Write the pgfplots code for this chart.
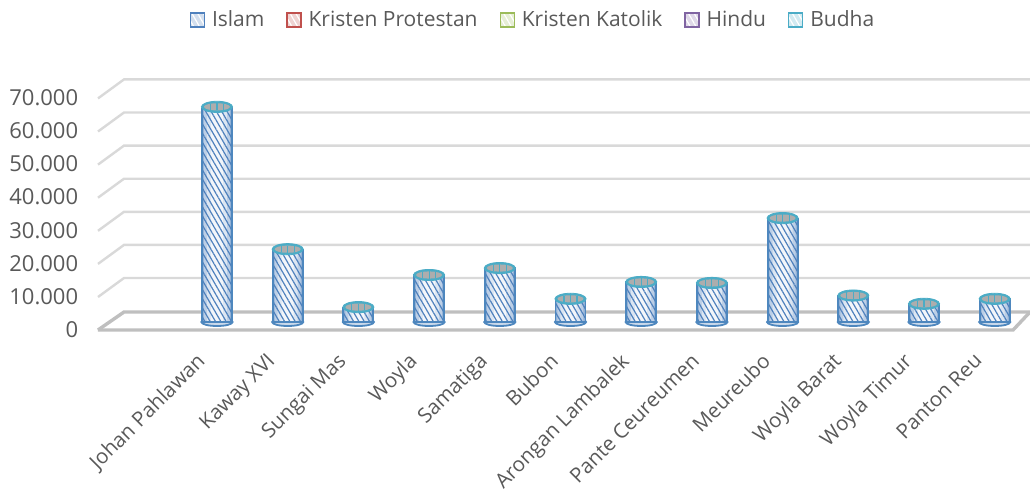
\documentclass[border=0pt]{standalone}
\usepackage{pgfplots}
\pgfplotsset{compat=1.18}
\usepackage{pgfplotstable}
\usepackage{fontspec}
\setmainfont{Open Sans}
\usetikzlibrary{patterns.meta}
\definecolor{cA}{HTML}{4F81BD}
\definecolor{cB}{HTML}{C0504D}
\definecolor{cC}{HTML}{9BBB59}
\definecolor{cD}{HTML}{8064A2}
\definecolor{cE}{HTML}{4BACC6}
\definecolor{txt}{HTML}{595959}
\definecolor{gridc}{HTML}{D9D9D9}
\definecolor{floorc}{HTML}{BFBFBF}
\pgfdeclareplotmark{basee}{%
  \pgfsetfillcolor{cA!30!white}\pgfsetstrokecolor{cA!85!cE}\pgfsetlinewidth{1.8pt}%
  \pgfpathellipse{\pgfpoint{0pt}{0pt}}{\pgfpoint{15.6pt}{0pt}}{\pgfpoint{0pt}{4pt}}%
  \pgfusepath{fill,stroke}}
\pgfdeclareplotmark{tope}{%
  \pgfsetfillcolor{cE}\pgfsetstrokecolor{cE}\pgfsetlinewidth{.8pt}%
  \pgfpathellipse{\pgfpoint{0pt}{0pt}}{\pgfpoint{15.6pt}{0pt}}{\pgfpoint{0pt}{5.6pt}}%
  \pgfusepath{fill,stroke}%
  \pgfsetfillcolor{black!32}%
  \pgfpathellipse{\pgfpoint{0pt}{0pt}}{\pgfpoint{13pt}{0pt}}{\pgfpoint{0pt}{3.6pt}}%
  \pgfusepath{fill}%
  \pgfsetlinewidth{1.1pt}%
  \pgfpathmoveto{\pgfpoint{-6.5pt}{-3.3pt}}\pgfpathlineto{\pgfpoint{-6.5pt}{3.3pt}}%
  \pgfpathmoveto{\pgfpoint{0pt}{-3.6pt}}\pgfpathlineto{\pgfpoint{0pt}{3.6pt}}%
  \pgfpathmoveto{\pgfpoint{6.5pt}{-3.3pt}}\pgfpathlineto{\pgfpoint{6.5pt}{3.3pt}}%
  \pgfusepath{stroke}}
\pgfplotsset{base/.style={
  scale only axis,width=1030pt,height=491pt,
  xmin=-3.069,xmax=11.499,ymin=-51057,ymax=97281,
  axis line style={draw=none},major tick length=0pt,clip=false,
  xtick=\empty,ytick=\empty,scaled ticks=false}}
\newcommand{\lgd}[1]{\draw[line width=1.2pt,draw=#1,fill=#1!25,postaction={pattern={Lines[angle=-60,distance=5pt,line width=1.2pt]},pattern color=white}] (0pt,-7pt) rectangle (14pt,7pt);}
\pgfplotstableread{
x islam prot kat hindu budha top floor
0 64500 400 50 25 25 65000 0
1 21750 150 50 25 25 22000 0
2 4400 50 20 15 15 4500 0
3 14100 50 20 15 15 14200 0
4 16200 50 20 15 15 16300 0
5 6900 50 20 15 15 7000 0
6 12000 50 20 15 15 12100 0
7 11700 50 20 15 15 11800 0
8 31300 50 20 15 15 31400 0
9 7900 50 20 15 15 8000 0
10 5400 50 20 15 15 5500 0
11 6900 50 20 15 15 7000 0
}\datatab
\begin{document}
\begin{tikzpicture}
\fontsize{20}{24}\selectfont
\begin{axis}[base,
  xtick={0,1,2,3,4,5,6,7,8,9,10,11},
  xticklabels={Johan Pahlawan,Kaway XVI,Sungai Mas,Woyla,Samatiga,Bubon,Arongan Lambalek,Pante Ceureumen,Meureubo,Woyla Barat,Woyla Timur,Panton Reu},
  xticklabel style={yshift=149pt,xshift=-22pt,rotate=45,anchor=north east,font=\fontsize{20.5}{24}\selectfont,text=txt},
  ytick={-2266,7734,17734,27734,37734,47734,57734,67734},
  yticklabels={0,{10.000},{20.000},{30.000},{40.000},{50.000},{60.000},{70.000}},
  yticklabel style={xshift=85pt,anchor=east,font=\fontsize{22}{26}\selectfont,text=txt}]
\addplot[gridc,line width=2.4pt] coordinates {(-1.683,7553) (-1.315,13293) (11.499,13293)};
\addplot[gridc,line width=2.4pt] coordinates {(-1.683,17553) (-1.315,23293) (11.499,23293)};
\addplot[gridc,line width=2.4pt] coordinates {(-1.683,27553) (-1.315,33293) (11.499,33293)};
\addplot[gridc,line width=2.4pt] coordinates {(-1.683,37553) (-1.315,43293) (11.499,43293)};
\addplot[gridc,line width=2.4pt] coordinates {(-1.683,47553) (-1.315,53293) (11.499,53293)};
\addplot[gridc,line width=2.4pt] coordinates {(-1.683,57553) (-1.315,63293) (11.499,63293)};
\addplot[gridc,line width=2.4pt] coordinates {(-1.683,67553) (-1.315,73293) (11.499,73293)};
\addplot[floorc,line width=3.4pt] coordinates {(-1.683,-2417) (-1.315,3021) (11.499,3021)};
\addplot[floorc,line width=3.4pt] coordinates {(-1.683,-2417) (11.26,-2417) (11.499,3021)};
\addplot[only marks,mark=basee] table[x=x,y=floor] {\datatab};
\end{axis}
\begin{axis}[base,ybar,bar shift=0pt]
\addplot[bar width=30pt,draw=none,fill=cA!62!white] table[x=x,y=islam] {\datatab};
\addplot[bar width=26pt,draw=none,fill=cA!38!white] table[x=x,y=islam] {\datatab};
\addplot[bar width=20pt,draw=none,fill=cA!20!white] table[x=x,y=islam] {\datatab};
\addplot[bar width=12pt,draw=none,fill=cA!7!white] table[x=x,y=islam] {\datatab};
\end{axis}
\begin{axis}[base,ybar stacked,bar width=30pt,
  legend columns=5,
  legend style={draw=none,fill=none,at={(0.5175,0.9593)},anchor=center,font=\fontsize{21}{25}\selectfont,text=txt,
    /tikz/every odd column/.style={column sep=5pt},
    /tikz/every even column/.style={column sep=20pt}}]
\addplot[draw=cA!85!cE,line width=1.8pt,pattern={Lines[angle=-60,distance=4.6pt,line width=1.2pt]},pattern color=cA,
  legend image code/.code={\lgd{cA}}] table[x=x,y=islam] {\datatab};
\addlegendentry{Islam}
\addplot[draw=cB,fill=cB,line width=.8pt,legend image code/.code={\lgd{cB}}] table[x=x,y=prot] {\datatab};
\addlegendentry{Kristen Protestan}
\addplot[draw=cC,fill=cC,line width=.2pt,legend image code/.code={\lgd{cC}}] table[x=x,y=kat] {\datatab};
\addlegendentry{Kristen Katolik}
\addplot[draw=cD,fill=cD,line width=.2pt,legend image code/.code={\lgd{cD}}] table[x=x,y=hindu] {\datatab};
\addlegendentry{Hindu}
\addplot[draw=cE,fill=cE,line width=.2pt,legend image code/.code={\lgd{cE}}] table[x=x,y=budha] {\datatab};
\addlegendentry{Budha}
\end{axis}
\begin{axis}[base]
\addplot[only marks,mark=tope] table[x=x,y=top] {\datatab};
\end{axis}
\pgfresetboundingbox
\path[use as bounding box] (0pt,0pt) rectangle (1030pt,491pt);
\end{tikzpicture}
\end{document}
